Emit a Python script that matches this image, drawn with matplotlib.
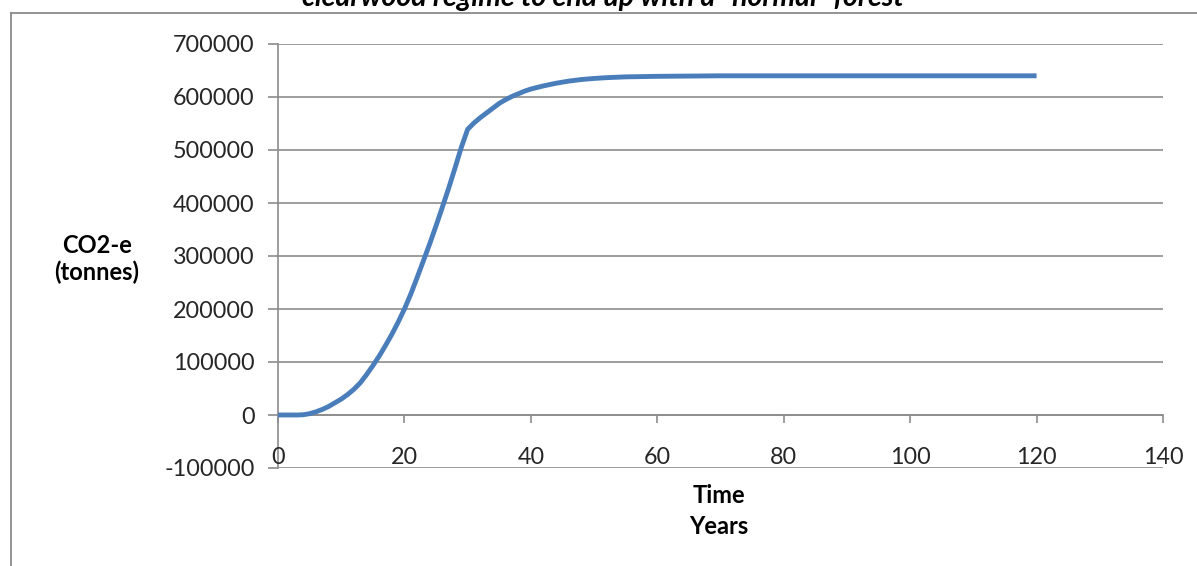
import matplotlib
matplotlib.use("Agg")
import matplotlib.pyplot as plt
from matplotlib.lines import Line2D

# Cumulative carbon stored (CO2-e tonnes) over time
years = list(range(0, 41)) + [42, 44, 46, 48, 50, 52, 55, 60, 65, 70, 80, 90, 100, 110, 120]
co2e = [0, 0, 0, 0, 500, 2500, 6000, 10500, 16000, 23000,
        30000, 38500, 48500, 60500, 76000, 93000, 111000, 131000, 152000, 175000,
        200000, 228000, 259000, 291000, 323000, 357000, 392000, 428000, 466000, 505000,
        539000, 551000, 561000, 570000, 579000, 588000, 595000, 601000, 606000, 611000,
        615000, 621000, 626000, 630000, 633000, 635000, 636500, 638000, 639000, 639500,
        640000, 640000, 640000, 640000, 640000, 640000]

x_ticks = [0, 20, 40, 60, 80, 100, 120, 140]
y_ticks = [-100000, 0, 100000, 200000, 300000, 400000, 500000, 600000, 700000]

title = 'clearwood regime to end up with a "normal" forest'
y_label = "CO2-e\n(tonnes)"
x_label = "Time\nYears"

FONT = "Lato"
TXT = "#262626"
GRID = "#8c8c8c"
LINE = "#4a7ebb"

fig = plt.figure(figsize=(11.97, 5.66), dpi=100)
W, H = 1197, 566

# chart frame (partially cropped)
fig.add_artist(Line2D([11 / W, 11 / W], [0, 1 - 13 / H], transform=fig.transFigure,
                      color="#8a8a8a", lw=1.3))
fig.add_artist(Line2D([11 / W, 1], [1 - 13 / H, 1 - 13 / H], transform=fig.transFigure,
                      color="#8a8a8a", lw=1.3))

fig.text(603 / W, 1 - 6 / H, title, ha="center", va="baseline",
         fontsize=20.5, fontweight="bold", style="italic", family=FONT, color="black")

ax = fig.add_axes([278 / W, 1 - 468 / H, (1163 - 278) / W, (468 - 44) / H])
ax.set_xlim(0, 140)
ax.set_ylim(-100000, 700000)

for yv in y_ticks:
    ax.axhline(yv, color=GRID, lw=1.2, zorder=1)

ax.plot(years, co2e, color=LINE, lw=3.5, solid_capstyle="butt",
        solid_joinstyle="round", zorder=3)

for s in ["top", "right"]:
    ax.spines[s].set_visible(False)
ax.spines["bottom"].set_position(("data", 0))
ax.spines["bottom"].set_color(GRID)
ax.spines["bottom"].set_linewidth(1.2)
ax.spines["left"].set_color(GRID)
ax.spines["left"].set_linewidth(1.2)

ax.set_yticks(y_ticks)
ax.set_yticklabels([f"{v:d}" for v in y_ticks])
ax.tick_params(axis="y", direction="out", length=7, width=1.2, color=GRID,
               pad=10, labelsize=16.8, labelcolor=TXT)
for lbl in ax.get_yticklabels():
    lbl.set_family(FONT)

ax.set_xticks(x_ticks)
ax.set_xticklabels([])
ax.tick_params(axis="x", direction="out", length=6, width=1.2, color=GRID)
for xv in x_ticks:
    ax.text(xv, -81000, f"{xv}", ha="center", va="center", fontsize=16.8,
            family=FONT, color=TXT, zorder=4)

fig.text(97 / W, 1 - 259 / H, y_label, ha="center", va="center", fontsize=17,
         fontweight="bold", family=FONT, color="black", linespacing=1.2)
fig.text(719 / W, 1 - 511 / H, x_label, ha="center", va="center", fontsize=17,
         fontweight="bold", family=FONT, color="black", linespacing=1.45)

fig.savefig("out.png", dpi=100, facecolor="white")
